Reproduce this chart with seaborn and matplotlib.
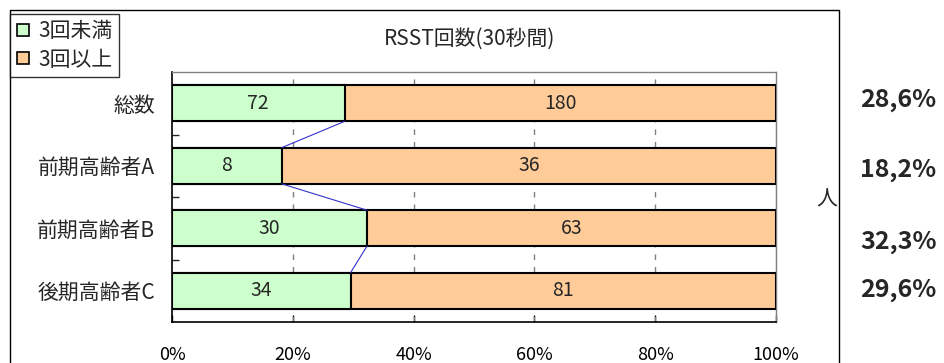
import pandas as pd
import numpy as np
import matplotlib
matplotlib.use("Agg")
import matplotlib.pyplot as plt
from matplotlib.lines import Line2D
import seaborn as sns

# data
categories = ["総数", "前期高齢者A", "前期高齢者B", "後期高齢者C"]
under3 = [72, 8, 30, 34]
over3 = [180, 36, 63, 81]
series_names = ["3回未満", "3回以上"]
x_ticks = [0, 20, 40, 60, 80, 100]
title = "RSST回数(30秒間)"
unit_label = "人"

GREEN = "#CCFFCC"
ORANGE = "#FFCC99"
LINE_BLUE = "#3333CC"


def main():
    sns.set_style("white")
    plt.rcParams["font.family"] = ["Noto Sans CJK JP", "DejaVu Sans"]

    df = pd.DataFrame({"cat": categories, "under": under3, "over": over3})
    df["total"] = df["under"] + df["over"]
    df["p_under"] = df["under"] / df["total"] * 100
    df["p_all"] = 100.0

    W, H = 944, 363
    fig = plt.figure(figsize=(W / 100, H / 100), dpi=100)
    ax = fig.add_axes([172 / W, 1 - 322 / H, (776 - 172) / W, (322 - 72) / H])

    bw = 0.58
    # full bar (orange) then green part over it
    sns.barplot(data=df, x="p_all", y="cat", orient="h", color=ORANGE,
                width=bw, edgecolor="black", linewidth=1.5, saturation=1,
                ax=ax, zorder=3)
    sns.barplot(data=df, x="p_under", y="cat", orient="h", color=GREEN,
                width=bw, edgecolor="black", linewidth=1.5, saturation=1,
                ax=ax, zorder=4)

    # value labels
    for i, row in df.iterrows():
        ax.text(row["p_under"] / 2, i, str(row["under"]), ha="center",
                va="center", fontsize=14, zorder=6)
        ax.text(row["p_under"] + (100 - row["p_under"]) / 2, i,
                str(row["over"]), ha="center", va="center", fontsize=14,
                zorder=6)

    # series lines between bars
    for i in range(len(df) - 1):
        ax.plot([df["p_under"][i], df["p_under"][i + 1]],
                [i + bw / 2, i + 1 - bw / 2], color=LINE_BLUE, lw=0.8,
                zorder=5)
        ax.plot([100, 100], [i + bw / 2, i + 1 - bw / 2], color=LINE_BLUE,
                lw=0.8, zorder=5)

    ax.set_xlim(0, 100)
    ax.set_ylim(len(df) - 0.5, -0.5)
    ax.set_xticks(x_ticks)
    ax.set_xticklabels([f"{t}%" for t in x_ticks], fontsize=13)
    ax.set_xlabel("")
    ax.set_ylabel("")
    ax.tick_params(axis="x", direction="in", length=5, width=1,
                   pad=17, bottom=True, colors="black")
    ax.tick_params(axis="y", length=0, pad=12, labelsize=15)
    ax.set_yticks(np.arange(len(df) - 1) + 0.5, minor=True)
    ax.tick_params(axis="y", which="minor", direction="in", length=5,
                   width=1, left=True)

    for x in x_ticks[1:-1]:
        ax.axvline(x, color="#808080", lw=1, ls=(0, (4, 5)), zorder=1)

    for side in ["left", "bottom"]:
        ax.spines[side].set_color("black")
        ax.spines[side].set_linewidth(1.2)
    for side in ["top", "right"]:
        ax.spines[side].set_color("#808080")
        ax.spines[side].set_linewidth(1)

    # outer chart frame
    x0, x1, yt = 10 / W, 839 / W, 1 - 10 / H
    fig.add_artist(Line2D([x0, x0, x1, x1], [0, yt, yt, 0],
                          transform=fig.transFigure, color="black", lw=1))

    fig.text(470 / W, 1 - 39 / H, title, ha="center", va="center",
             fontsize=15)
    fig.text(827 / W, 1 - 200 / H, unit_label, ha="center", va="center",
             fontsize=15)

    # percentage of under-3 on the right
    pct_y = [100, 170, 242, 290]
    for p, y in zip(df["p_under"], pct_y):
        fig.text(860 / W, 1 - y / H, f"{p:.1f}%".replace(".", ","),
                 ha="left", va="center", fontsize=18, fontweight="bold")

    handles = [Line2D([], [], marker="s", ls="", markersize=8.5,
                      markerfacecolor=c, markeredgecolor="black",
                      markeredgewidth=1.2) for c in (GREEN, ORANGE)]
    leg = fig.legend(handles, series_names, loc="upper left",
                     bbox_to_anchor=(10 / W, 1 - 14 / H),
                     bbox_transform=fig.transFigure, borderaxespad=0,
                     fontsize=15, frameon=True, fancybox=False,
                     handlelength=0.6, handletextpad=0.45,
                     borderpad=0.3, labelspacing=0.3)
    leg.get_frame().set_edgecolor("black")
    leg.get_frame().set_linewidth(1)

    fig.savefig("out.png", dpi=100)
    plt.close(fig)


if __name__ == "__main__":
    main()
